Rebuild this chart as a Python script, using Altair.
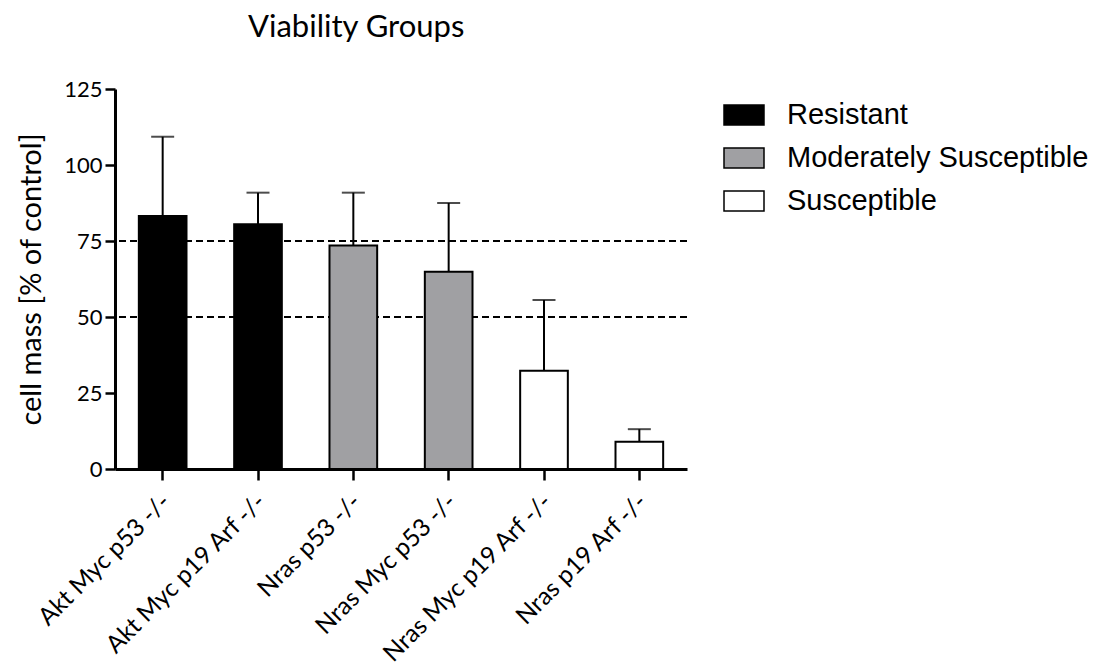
import altair as alt
import pandas as pd

categories = ["Akt Myc p53 -/-", "Akt Myc p19 Arf -/-", "Nras p53 -/-",
              "Nras Myc p53 -/-", "Nras Myc p19 Arf -/-", "Nras p19 Arf -/-"]
means = [83.2, 80.5, 73.5, 64.9, 32.3, 9.0]
upper = [109.3, 90.9, 90.9, 87.5, 55.6, 13.1]
groups = ["Resistant", "Resistant", "Moderately Susceptible",
          "Moderately Susceptible", "Susceptible", "Susceptible"]
group_order = ["Resistant", "Moderately Susceptible", "Susceptible"]
group_colors = ["#000000", "#a0a0a3", "#ffffff"]
thresholds = [75, 50]
y_ticks = [0, 25, 50, 75, 100, 125]

df = pd.DataFrame({"category": categories, "mean": means, "upper": upper, "group": groups})
thr = pd.DataFrame({"level": thresholds})

FONT = "Lato"

x_enc = alt.X(
    "category:N", sort=categories, title=None,
    scale=alt.Scale(paddingInner=0.5, paddingOuter=0.25),
    axis=alt.Axis(labelAngle=-45, labelFont=FONT, labelFontSize=24.5, labelColor="black",
                  labelAlign="right", labelBaseline="middle", labelPadding=18,
                  labelOffset=4, labelLimit=0,
                  domainColor="black", domainWidth=3, tickColor="black",
                  tickWidth=2.5, tickSize=11, grid=False),
)
y_scale = alt.Scale(domain=[0, 125], nice=False)
y_axis = alt.Axis(values=y_ticks, title="cell mass [% of control]", titleFont=FONT,
                  titleFontSize=29, titleFontWeight="normal", titleColor="black",
                  titleX=-84, titleY=190, titleAngle=270, titleAlign="center",
                  titleBaseline="middle",
                  labelFont=FONT, labelFontSize=22, labelColor="black", labelPadding=3,
                  domainColor="black", domainWidth=3, tickColor="black", tickWidth=2.5,
                  tickSize=10, grid=False)

rules = alt.Chart(thr).mark_rule(color="black", strokeWidth=2, strokeDash=[7, 4]).encode(
    y=alt.Y("level:Q", scale=y_scale, axis=y_axis)
)

bars = alt.Chart(df).mark_bar(stroke="black", strokeWidth=2).encode(
    x=x_enc,
    y=alt.Y("mean:Q", scale=y_scale, axis=y_axis),
    fill=alt.Fill("group:N", scale=alt.Scale(domain=group_order, range=group_colors),
                  legend=alt.Legend(orient="none", legendX=608, legendY=5, title=None,
                                    symbolType="M-1,-0.5H1V0.5H-1Z", symbolSize=1600,
                                    symbolStrokeColor="black", symbolStrokeWidth=1.5,
                                    symbolOpacity=1, labelFont="Liberation Sans",
                                    labelFontSize=29, labelColor="black", labelOffset=22,
                                    labelLimit=0, rowPadding=7, padding=0)),
)

err = alt.Chart(df).mark_rule(color="black", strokeWidth=2).encode(
    x=alt.X("category:N", sort=categories),
    y=alt.Y("mean:Q", scale=y_scale),
    y2="upper:Q",
)
caps = alt.Chart(df).mark_tick(color="black", thickness=2, size=23).encode(
    x=alt.X("category:N", sort=categories),
    y=alt.Y("upper:Q", scale=y_scale),
)

chart = alt.layer(rules, bars, err, caps).properties(
    width=572, height=380,
    background="white",
    title=alt.TitleParams("Viability Groups", font=FONT, fontSize=31, fontWeight="normal",
                          color="black", anchor="start", frame="group", dx=133, offset=34),
    autosize=alt.AutoSizeParams(type="none"),
    padding={"left": 115, "top": 89, "right": 409, "bottom": 199},
).configure_view(strokeWidth=0, stroke="transparent")

chart.save("out.html", embed_options={"renderer": "svg", "actions": False})
